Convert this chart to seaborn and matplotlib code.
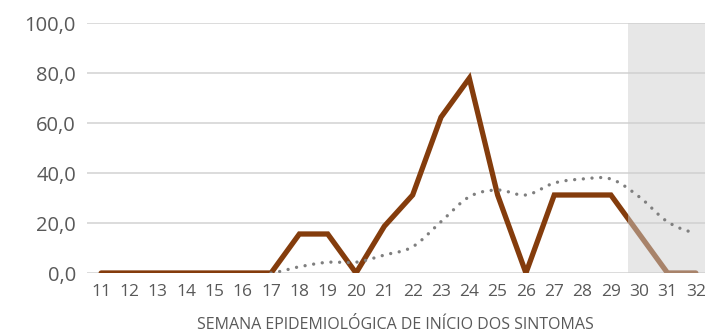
import numpy as np
import pandas as pd
import seaborn as sns
import matplotlib.pyplot as plt
from matplotlib.ticker import FuncFormatter

# Data
semanas = ["11", "12", "13", "14", "15", "16", "17", "18", "19", "20", "21",
           "22", "23", "24", "25", "26", "27", "28", "29", "30", "31", "32"]
incidencia = [0, 0, 0, 0, 0, 0, 0, 15.6, 15.6, 0, 18.7,
              31.2, 62.3, 77.9, 31.2, 0, 31.2, 31.2, 31.2, 15.6, 0, 0]
media_movel = [None, None, None, None, None, None, 0, 2.5, 4.3, 4.3, 7.2,
               10.5, 20.5, 30.5, 33.2, 31.2, 36.0, 37.6, 37.6, 30.5, 20.5, 16.0]
inicio_sombra = "30"

sns.set_theme(style="white")
plt.rcParams["font.family"] = ["Open Sans", "DejaVu Sans"]

grey_txt = "#595959"

def smooth(xs, ys, n=20):
   # catmull-rom curve through the points, like Excel's smoothed line
   xs = np.asarray(xs, float)
   ys = np.asarray(ys, float)
   px = np.concatenate([[2 * xs[0] - xs[1]], xs, [2 * xs[-1] - xs[-2]]])
   py = np.concatenate([[ys[0]], ys, [ys[-1]]])
   ox, oy = [], []
   for i in range(1, len(px) - 2):
      t = np.linspace(0, 1, n, endpoint=False)
      for p, o in ((px, ox), (py, oy)):
         p0, p1, p2, p3 = p[i - 1], p[i], p[i + 1], p[i + 2]
         o.extend(0.5 * ((2 * p1) + (-p0 + p2) * t
                         + (2 * p0 - 5 * p1 + 4 * p2 - p3) * t ** 2
                         + (-p0 + 3 * p1 - 3 * p2 + p3) * t ** 3))
   ox.append(xs[-1])
   oy.append(ys[-1])
   return np.array(ox), np.array(oy)

df = pd.DataFrame({"pos": np.arange(len(semanas)), "semana": semanas,
                   "inc": incidencia, "mm": media_movel})

fig = plt.figure(figsize=(7.05, 3.35), dpi=100)
ax = fig.add_axes([87 / 705, 1 - 273 / 335, (710 - 87) / 705, 250 / 335])

# gridlines
for v in range(0, 101, 20):
   ax.axhline(v, color="#D9D9D9", lw=1.3, zorder=0)

sns.lineplot(data=df, x="pos", y="inc", color="#843C0C", lw=3.8, ax=ax,
             solid_joinstyle="miter", zorder=3)

# shaded period (incomplete weeks)
x0 = semanas.index(inicio_sombra) - 0.4
ax.axvspan(x0, len(semanas) - 0.5, color="#CECECE", alpha=0.49, lw=0, zorder=4)

mm = df.dropna(subset=["mm"])
sx, sy = smooth(mm["pos"], mm["mm"])
sns.lineplot(x=sx, y=sy, sort=False, color="#7F7F7F", lw=2.4, ax=ax,
             linestyle=(0, (0.01, 2.6)), dash_capstyle="round", zorder=5)

ax.set_xlim(-0.5, len(semanas) - 0.5)
ax.set_ylim(0, 100)
ax.set_xticks(df["pos"])
ax.set_xticklabels(semanas)
ax.set_yticks(range(0, 101, 20))
ax.yaxis.set_major_formatter(FuncFormatter(lambda v, p: f"{v:.1f}".replace(".", ",")))
ax.tick_params(axis="y", labelsize=14.5, colors=grey_txt, length=0, pad=8)
ax.tick_params(axis="x", labelsize=12.5, colors=grey_txt, length=0, pad=8)
ax.set_xlabel("")
ax.set_ylabel("")
fig.text(395 / 705, 1 - 325 / 335, "SEMANA EPIDEMIOLÓGICA DE INÍCIO DOS SINTOMAS",
         fontsize=11.5, color=grey_txt, ha="center", va="center")
for s in ax.spines.values():
   s.set_visible(False)

fig.savefig("out.png", dpi=100)
